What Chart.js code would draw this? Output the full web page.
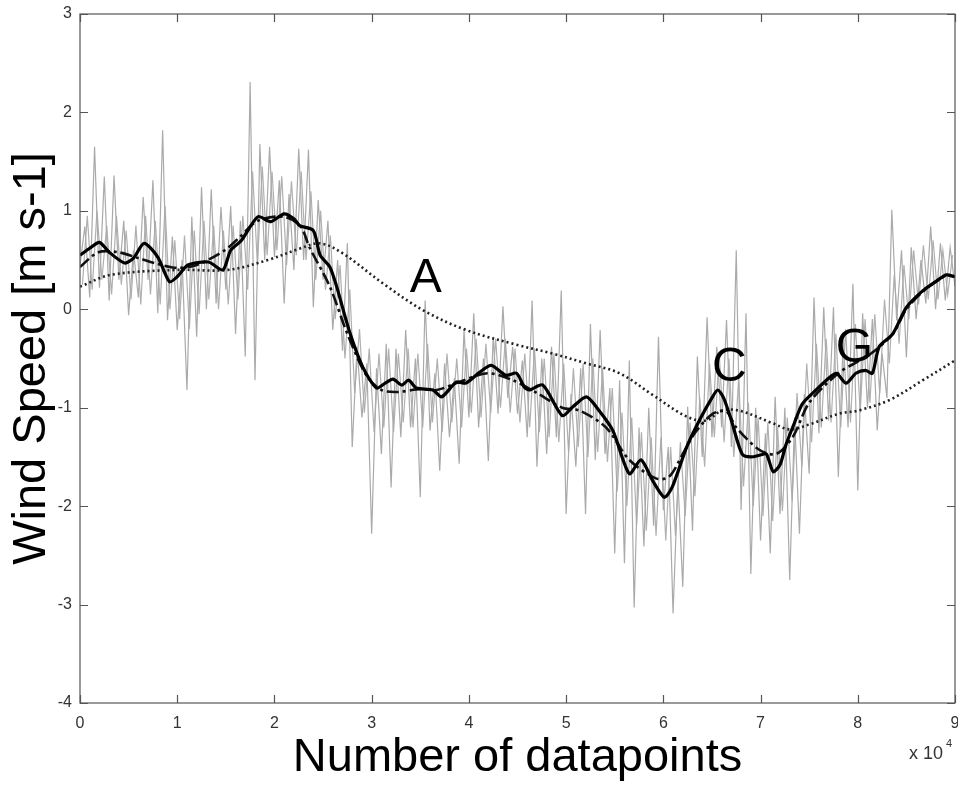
<!DOCTYPE html>
<html>
<head>
<meta charset="utf-8">
<script src="https://cdn.jsdelivr.net/npm/chart.js@4.4.1/dist/chart.umd.min.js"></script>
<style>
  html, body { margin: 0; padding: 0; background: #fff; }
</style>
</head>
<body>
<canvas id="windchart" width="958" height="785"></canvas>
<script>
// x values in units of 10^4 datapoints
const xTicks = [0, 1, 2, 3, 4, 5, 6, 7, 8, 9];
const yTicks = [-4, -3, -2, -1, 0, 1, 2, 3];

// raw signal, read every 0.05 (x 10^4): spikes of the grey trace
const grayStep = 0.05;
const grayY = [
  0.45, 0.84, 0.12, 1.65, 0.22, 1.35, 0.09, 1.36, 0.30, 0.90,
  -0.06, 0.60, 0.12, 1.14, 0.30, 1.31, -0.04, 1.82, -0.11, 0.74,
  -0.21, 0.50, -0.82, 0.94, -0.28, 1.24, 0.00, 1.22, 0.06, 1.04,
  0.20, 1.05, -0.25, 0.90, -0.48, 2.31, -0.72, 1.68, 0.50, 1.65,
  0.53, 1.31, 0.06, 1.17, 0.40, 1.63, 0.50, 1.62, 0.02, 1.11,
  0.30, 0.90, -0.21, 0.50, -0.42, 0.67, -1.40, -0.38, -1.10, -0.55,
  -2.28, -0.60, -1.47, -0.35, -1.81, -0.40, -1.30, -0.21, -1.20, -0.50,
  -1.91, 0.09, -1.23, -0.65, -1.64, -0.55, -1.30, -0.70, -1.57, -0.21,
  -1.10, -0.04, -1.20, -0.50, -1.54, -0.28, -1.06, 0.03, -0.90, -0.38,
  -1.06, -0.52, -1.30, 0.09, -1.60, -0.50, -1.47, -0.38, -1.30, 0.19,
  -2.08, -0.86, -1.60, -0.60, -2.08, -0.15, -1.53, -0.21, -1.47, -0.80,
  -2.48, -0.72, -2.58, -0.52, -3.03, -1.20, -2.41, -1.00, -2.20, -0.28,
  -2.04, -1.40, -3.09, -1.74, -2.82, -0.99, -2.25, -0.48, -1.50, -0.08,
  -1.30, -0.38, -1.20, -0.11, -1.40, 0.60, -2.04, -0.04, -2.69, -1.00,
  -2.35, -1.26, -2.48, -0.89, -2.08, -1.00, -2.75, -1.10, -2.28, -0.86,
  -1.67, 0.12, -1.26, 0.02, -1.13, 0.02, -1.70, -0.31, -1.20, 0.26,
  -1.84, -0.04, -1.00, -0.10, -1.23, -0.45, -0.90, 1.01, -0.11, 0.60,
  -0.49, 0.63, -0.10, 0.50, 0.06, 0.84, 0.00, 0.67, 0.09, 0.63,
  0.23
];

// dense core of the grey band, read half a step later (0.025, 0.075, ...)
const grayCoreY = [
  0.25, 0.95, 0.20, 1.00, 0.30, 0.85, 0.15, 0.95, 0.25, 0.80,
  0.10, 0.85, 0.05, 0.95, 0.15, 0.90, 0.05, 1.05, 0.00, 0.70,
  -0.10, 0.75, -0.20, 0.80, -0.05, 0.90, 0.10, 0.85, 0.00, 0.80,
  0.05, 0.85, 0.10, 0.95, 0.20, 1.40, 0.45, 1.45, 0.55, 1.40,
  0.60, 1.35, 0.45, 1.30, 0.55, 1.40, 0.50, 1.20, 0.30, 1.00,
  0.20, 0.75, -0.10, 0.45, -0.50, 0.20, -0.85, -0.20, -1.05, -0.40,
  -1.25, -0.45, -1.20, -0.40, -1.25, -0.45, -1.15, -0.40, -1.20, -0.45,
  -1.20, -0.35, -1.15, -0.50, -1.25, -0.45, -1.15, -0.50, -1.20, -0.40,
  -1.05, -0.30, -1.10, -0.35, -1.05, -0.30, -1.00, -0.30, -1.05, -0.40,
  -1.15, -0.45, -1.20, -0.40, -1.25, -0.50, -1.30, -0.45, -1.35, -0.55,
  -1.45, -0.60, -1.40, -0.55, -1.50, -0.50, -1.45, -0.60, -1.55, -0.80,
  -1.85, -1.05, -2.00, -1.10, -2.20, -1.25, -2.25, -1.30, -2.30, -1.30,
  -2.35, -1.40, -2.30, -1.35, -2.10, -1.15, -1.90, -0.90, -1.60, -0.55,
  -1.30, -0.45, -1.35, -0.50, -1.50, -0.70, -1.80, -0.95, -2.00, -1.10,
  -2.10, -1.15, -2.15, -1.20, -2.05, -1.10, -1.95, -0.85, -1.60, -0.55,
  -1.35, -0.35, -1.20, -0.30, -1.15, -0.25, -1.20, -0.20, -1.15, -0.15,
  -1.05, -0.10, -0.95, -0.05, -0.85, 0.10, -0.55, 0.35, -0.35, 0.45,
  -0.10, 0.60, 0.05, 0.65, 0.10, 0.70, 0.10, 0.60, 0.15, 0.55
];

// heavy solid line
const solidX = [0, 0.1, 0.2, 0.3, 0.46, 0.55, 0.66, 0.8, 0.92, 1.0, 1.11, 1.32, 1.47, 1.55, 1.66, 1.83, 1.96, 2.1, 2.2, 2.26, 2.4, 2.47, 2.57, 2.64, 2.77, 2.91, 3.05, 3.14, 3.22, 3.31, 3.38, 3.46, 3.63, 3.72, 3.87, 3.97, 4.11, 4.23, 4.38, 4.49, 4.57, 4.62, 4.76, 4.96, 5.07, 5.21, 5.34, 5.48, 5.65, 5.77, 5.89, 6.01, 6.09, 6.24, 6.37, 6.5, 6.56, 6.62, 6.7, 6.81, 6.9, 7.0, 7.06, 7.13, 7.2, 7.26, 7.35, 7.43, 7.57, 7.7, 7.78, 7.88, 7.98, 8.08, 8.15, 8.22, 8.36, 8.5, 8.67, 8.8, 8.91, 9.0];
const solidY = [0.55, 0.62, 0.68, 0.58, 0.47, 0.52, 0.67, 0.53, 0.28, 0.33, 0.45, 0.48, 0.40, 0.60, 0.70, 0.94, 0.89, 0.97, 0.92, 0.85, 0.80, 0.55, 0.43, 0.23, -0.22, -0.59, -0.80, -0.75, -0.71, -0.77, -0.72, -0.80, -0.82, -0.89, -0.74, -0.75, -0.64, -0.57, -0.67, -0.65, -0.79, -0.82, -0.77, -1.08, -0.99, -0.89, -1.03, -1.23, -1.67, -1.53, -1.74, -1.91, -1.81, -1.40, -1.13, -0.90, -0.82, -0.90, -1.13, -1.47, -1.50, -1.48, -1.47, -1.65, -1.58, -1.38, -1.15, -0.96, -0.82, -0.70, -0.65, -0.75, -0.65, -0.62, -0.65, -0.38, -0.25, 0.02, 0.19, 0.28, 0.35, 0.33];

// dash-dot line
const dashX = [0, 0.19, 0.39, 0.6, 0.8, 1.0, 1.2, 1.49, 1.65, 1.83, 2.1, 2.27, 2.36, 2.57, 2.75, 2.95, 3.1, 3.27, 3.5, 3.67, 3.9, 4.19, 4.45, 4.7, 4.96, 5.14, 5.41, 5.65, 5.93, 6.06, 6.2, 6.33, 6.51, 6.65, 6.75, 6.99, 7.16, 7.33, 7.5, 7.8, 8.02, 8.15, 8.36, 8.5, 8.67, 8.9, 9.0];
const dashY = [0.43, 0.58, 0.58, 0.52, 0.46, 0.42, 0.45, 0.60, 0.74, 0.90, 0.94, 0.84, 0.63, 0.23, -0.25, -0.68, -0.82, -0.84, -0.81, -0.82, -0.74, -0.65, -0.72, -0.85, -1.00, -1.03, -1.20, -1.53, -1.72, -1.70, -1.47, -1.25, -1.06, -1.04, -1.20, -1.43, -1.47, -1.30, -0.95, -0.65, -0.52, -0.44, -0.25, 0.00, 0.18, 0.34, 0.33];

// dotted trend
const dotX = [0, 0.32, 1.0, 1.52, 1.93, 2.27, 2.47, 2.7, 3.12, 3.53, 3.97, 4.49, 4.86, 5.21, 5.55, 5.89, 6.24, 6.44, 6.6, 6.78, 7.13, 7.3, 7.5, 7.81, 8.0, 8.33, 8.67, 9.0];
const dotY = [0.23, 0.35, 0.40, 0.40, 0.50, 0.62, 0.67, 0.57, 0.26, -0.01, -0.21, -0.36, -0.45, -0.55, -0.65, -0.87, -1.09, -1.13, -1.03, -1.03, -1.16, -1.22, -1.17, -1.06, -1.03, -0.92, -0.72, -0.52];

// letter markers
const markText = ["A", "C", "G"];
const markX = [3.556, 6.68, 7.965];
const markY = [0.345, -0.56, -0.366];

const pts = (xs, ys) => ys.map((y, i) => ({ x: xs[i], y: y }));
const grayPts = grayY.map((y, i) => ({ x: i * grayStep, y: y }));
const grayCorePts = grayCoreY.map((y, i) => ({ x: (i + 0.5) * grayStep, y: y }));

const boxPlugin = {
  id: "boxPlugin",
  afterDraw(chart) {
    const ctx = chart.ctx;
    const a = chart.chartArea;
    const sx = chart.scales.x;
    const sy = chart.scales.y;
    ctx.save();
    ctx.strokeStyle = "#555";
    ctx.lineWidth = 1.2;
    ctx.strokeRect(a.left, a.top, a.right - a.left, a.bottom - a.top);
    ctx.beginPath();
    xTicks.forEach(v => {
      const px = Math.round(sx.getPixelForValue(v)) + 0.5;
      ctx.moveTo(px, a.bottom); ctx.lineTo(px, a.bottom - 8);
      ctx.moveTo(px, a.top); ctx.lineTo(px, a.top + 8);
    });
    yTicks.forEach(v => {
      const py = Math.round(sy.getPixelForValue(v)) + 0.5;
      ctx.moveTo(a.left, py); ctx.lineTo(a.left + 8, py);
      ctx.moveTo(a.right, py); ctx.lineTo(a.right - 8, py);
    });
    ctx.stroke();

    // exponent note
    ctx.fillStyle = "#333";
    ctx.font = "18px 'Liberation Sans', Arial, sans-serif";
    ctx.textAlign = "left";
    ctx.textBaseline = "middle";
    ctx.fillText("x 10", 909, 754);
    ctx.font = "11px 'Liberation Sans', Arial, sans-serif";
    ctx.fillText("4", 946, 744);

    // letters
    ctx.fillStyle = "#000";
    ctx.font = "48px 'Liberation Sans', Arial, sans-serif";
    ctx.textAlign = "center";
    ctx.textBaseline = "middle";
    markText.forEach((t, i) => {
      ctx.fillText(t, sx.getPixelForValue(markX[i]), sy.getPixelForValue(markY[i]) + 3);
    });
    ctx.restore();
  }
};

const tickFont = { family: "'Liberation Sans', Arial, sans-serif", size: 16 };
const titleFont = { family: "'Liberation Sans', Arial, sans-serif", size: 47 };

new Chart(document.getElementById("windchart"), {
  type: "line",
  data: {
    datasets: [
      {
        data: pts(solidX, solidY),
        borderColor: "#000",
        borderWidth: 3.2,
        tension: 0.25,
      },
      {
        data: pts(dashX, dashY),
        borderColor: "#111",
        borderWidth: 2.6,
        borderDash: [12, 4, 3, 4],
        tension: 0.3,
      },
      {
        data: pts(dotX, dotY),
        borderColor: "#222",
        borderWidth: 2.6,
        borderDash: [2, 3],
        tension: 0.35,
      },
      {
        data: grayPts,
        borderColor: "#aaaaaa",
        borderWidth: 1.2,
        tension: 0,
      },
      {
        data: grayCorePts,
        borderColor: "#b0b0b0",
        borderWidth: 1.2,
        tension: 0,
      },
    ],
  },
  options: {
    responsive: false,
    animation: false,
    parsing: false,
    layout: { padding: { top: 14, right: 3, left: 0, bottom: 0 } },
    elements: { point: { radius: 0 } },
    plugins: {
      legend: { display: false },
      tooltip: { enabled: false },
    },
    scales: {
      x: {
        type: "linear",
        min: 0,
        max: 9,
        grid: { display: false, drawTicks: false },
        border: { display: false },
        ticks: { stepSize: 1, font: tickFont, color: "#333", padding: 11, maxRotation: 0 },
        title: { display: true, text: "Number of datapoints", font: titleFont, color: "#000", padding: { top: 0, bottom: -1 } },
        afterFit(scale) {
          scale.height = 82;
          scale.paddingLeft = 0;
          scale.paddingRight = 0;
        },
      },
      y: {
        type: "linear",
        min: -4,
        max: 3,
        grid: { display: false, drawTicks: false },
        border: { display: false },
        ticks: { stepSize: 1, font: tickFont, color: "#333", padding: 8 },
        title: { display: true, text: "Wind Speed [m s-1]", font: titleFont, color: "#000", padding: { top: 4, bottom: 0 } },
        afterFit(scale) {
          scale.width = 80;
          scale.paddingTop = 0;
          scale.paddingBottom = 0;
        },
      },
    },
  },
  plugins: [boxPlugin],
});
</script>
</body>
</html>
